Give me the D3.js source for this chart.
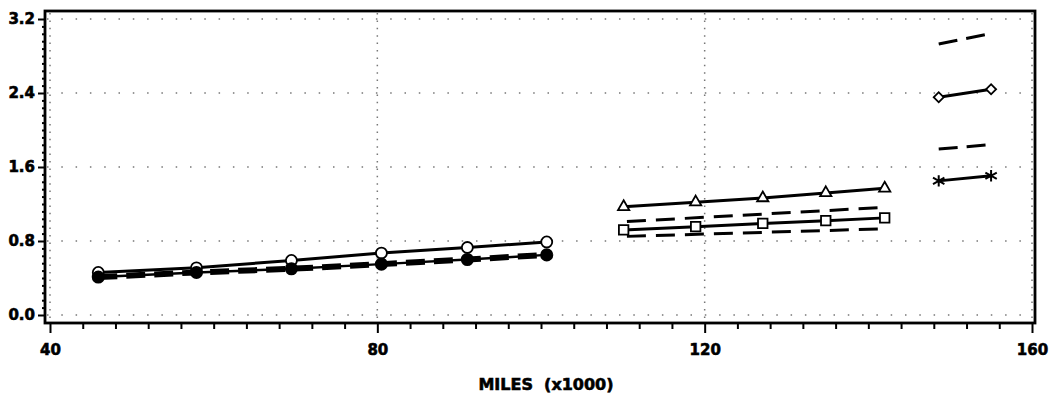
<!DOCTYPE html>
<html>
<head>
<meta charset="utf-8">
<script src="https://cdn.jsdelivr.net/npm/d3@7"></script>
<style>
  html, body { margin: 0; padding: 0; background: #fff; }
  svg text { font-family: "DejaVu Sans", sans-serif; font-weight: bold; fill: #000; stroke: #000; stroke-width: 0.6px; }
</style>
</head>
<body>
<svg id="chart" width="1049" height="400"></svg>
<script>
// ---- data ----
const xTicks = [40, 80, 120, 160];
const yTicks = [0.0, 0.8, 1.6, 2.4, 3.2];
const xTitle = "MILES  (x1000)";

const grp1X = [45.9, 57.9, 69.5, 80.5, 91.0, 100.7];
const openCircleY = [0.46, 0.51, 0.59, 0.67, 0.73, 0.79];
const filledCircleY = [0.41, 0.46, 0.50, 0.55, 0.60, 0.65];

const grp2X = [110.1, 118.9, 127.1, 134.8, 142.0];
const triangleY = [1.17, 1.22, 1.265, 1.32, 1.37];
const squareY = [0.92, 0.955, 0.99, 1.02, 1.05];
const band2X = [110.5, 141.2];
const band2Upper = [1.01, 1.16];
const band2Lower = [0.85, 0.93];

const grp3X = [148.6, 155.0];
const diamondY = [2.355, 2.44];
const starY = [1.45, 1.505];
const band3UpperX = [148.6, 154.3];
const band3Upper = [2.93, 3.03];
const band3LowerX = [148.6, 154.8];
const band3Lower = [1.795, 1.84];

// ---- layout ----
const svg = d3.select("#chart");
const frame = { left: 45, right: 1035, top: 11, bottom: 323 };
const x = d3.scaleLinear().domain([40, 160]).range([50, 1032]);
const y = d3.scaleLinear().domain([0, 3.2]).range([315, 19]);

// grid
const grid = svg.append("g");
grid.selectAll("line.h").data(yTicks).join("line")
  .attr("x1", frame.left + 2).attr("x2", frame.right - 2)
  .attr("y1", d => y(d)).attr("y2", d => y(d))
  .attr("stroke", "#777").attr("stroke-width", 1.5).attr("stroke-dasharray", "1.5,12.8");
grid.selectAll("line.v").data(xTicks).join("line")
  .attr("y1", frame.top + 2).attr("y2", frame.bottom - 2)
  .attr("x1", d => x(d)).attr("x2", d => x(d))
  .attr("stroke", "#777").attr("stroke-width", 1.5).attr("stroke-dasharray", "1.5,5.9");

// frame
svg.append("rect")
  .attr("x", frame.left).attr("y", frame.top)
  .attr("width", frame.right - frame.left).attr("height", frame.bottom - frame.top)
  .attr("fill", "none").attr("stroke", "#000").attr("stroke-width", 2.8);

// x axis
const xMinor = d3.range(40, 160.01, 4);
const xAxis = d3.axisBottom(x).tickValues(xMinor).tickSize(6)
  .tickFormat(d => xTicks.includes(d) ? d : "");
const gx = svg.append("g").attr("transform", `translate(0,${frame.bottom})`).call(xAxis);
gx.select(".domain").remove();
gx.selectAll(".tick line").attr("stroke", "#000").attr("stroke-width", 2)
  .attr("y2", d => xTicks.includes(d) ? 10 : 6);
gx.selectAll(".tick text").attr("y", 21).attr("dy", "0.71em")
  .style("font-size", "15px").style("font-family", "DejaVu Sans").style("font-weight", "bold");

// y axis
const yMinor = d3.range(0, 32.01, 0.8).map(d => d / 10);
const yAxis = d3.axisLeft(y).tickValues(yMinor).tickSize(3)
  .tickFormat(d => yTicks.some(t => Math.abs(t - d) < 1e-6) ? d3.format(".1f")(d) : "");
const gy = svg.append("g").attr("transform", `translate(${frame.left},0)`).call(yAxis);
gy.select(".domain").remove();
gy.selectAll(".tick line").attr("stroke", "#000").attr("stroke-width", 2)
  .attr("x2", d => yTicks.some(t => Math.abs(t - d) < 1e-6) ? -7 : -3);
gy.selectAll(".tick text").attr("x", -10)
  .style("font-size", "15px").style("font-family", "DejaVu Sans").style("font-weight", "bold");

// x title
svg.append("text").attr("x", 546).attr("y", 390).attr("text-anchor", "middle")
  .style("font-size", "16px").style("white-space", "pre").text(xTitle);

// ---- series ----
const line = d3.line().x(d => x(d[0])).y(d => y(d[1]));
const zip = (xs, ys) => xs.map((v, i) => [v, ys[i]]);
const plot = svg.append("g");

function drawLine(pts, width, dash) {
  plot.append("path").datum(pts).attr("d", line)
    .attr("fill", "none").attr("stroke", "#000").attr("stroke-width", width)
    .attr("stroke-dasharray", dash || null).attr("stroke-linecap", "butt");
}
function drawMarkers(pts, type, size, filled, rot) {
  plot.selectAll(null).data(pts).join("path")
    .attr("transform", d => `translate(${x(d[0])},${y(d[1])}) rotate(${rot || 0})`)
    .attr("d", d3.symbol().type(type).size(size))
    .attr("fill", filled ? "#000" : "#fff").attr("stroke", "#000").attr("stroke-width", 1.8);
}
const starSym = { draw(ctx, size) {
  const r = Math.sqrt(size) / 2;
  ctx.moveTo(0, -r); ctx.lineTo(0, r);
  ctx.moveTo(-r, -r * 0.55); ctx.lineTo(r, r * 0.55);
  ctx.moveTo(-r, r * 0.55); ctx.lineTo(r, -r * 0.55);
} };

// group 1
const open1 = zip(grp1X, openCircleY);
const filled1 = zip(grp1X, filledCircleY);
drawLine(filled1, 2.5);
drawLine(filled1, 6, "19,9");
drawLine(open1, 3);
drawMarkers(open1, d3.symbolCircle, 95, false);
drawMarkers(filled1, d3.symbolCircle, 100, true);

// group 2
drawLine(zip(band2X, band2Upper), 3, "19,10");
drawLine(zip(band2X, band2Lower), 3, "19,10");
const tri = zip(grp2X, triangleY);
const sq = zip(grp2X, squareY);
drawLine(tri, 3);
drawLine(sq, 3);
drawMarkers(tri, d3.symbolTriangle, 55, false);
drawMarkers(sq, d3.symbolSquare, 90, false);

// group 3
drawLine(zip(band3UpperX, band3Upper), 3, "19,9");
drawLine(zip(band3LowerX, band3Lower), 3, "19,9");
const dia = zip(grp3X, diamondY);
const star = zip(grp3X, starY);
drawLine(dia, 3);
drawLine(star, 3);
drawMarkers(dia, d3.symbolSquare, 50, false, 45);
plot.selectAll(null).data(star).join("path")
  .attr("transform", d => `translate(${x(d[0])},${y(d[1])})`)
  .attr("d", d3.symbol().type(starSym).size(130))
  .attr("fill", "none").attr("stroke", "#000").attr("stroke-width", 2);
</script>
</body>
</html>
